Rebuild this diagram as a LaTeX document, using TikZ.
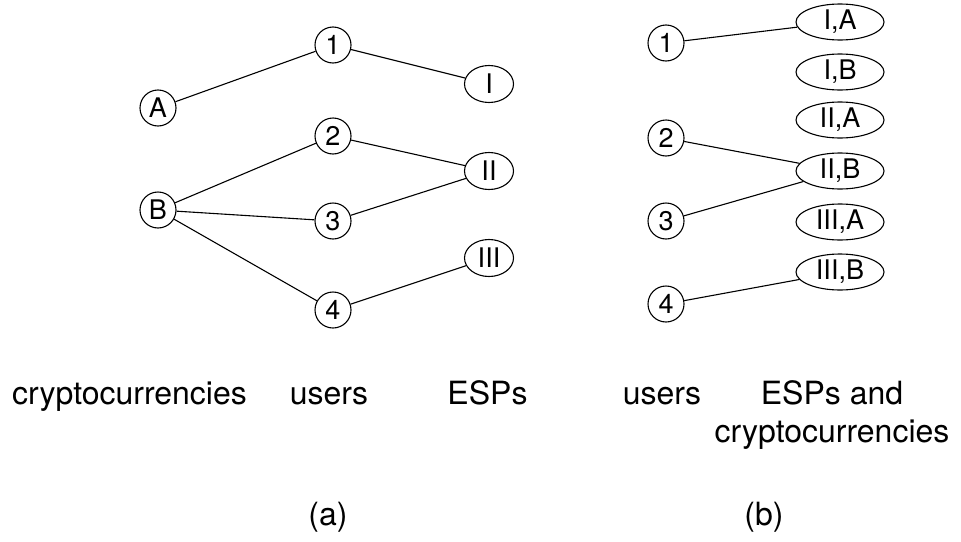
\documentclass[tikz,border=0pt]{standalone}
\usepackage{fontspec}
\setmainfont{TeX Gyre Heros}
\usetikzlibrary{shapes.geometric}
\tikzset{
  vert/.style={circle,draw,line width=1.1pt,inner sep=0pt,minimum size=36pt,font=\fontsize{27}{32}\selectfont},
  espl/.style={ellipse,draw,line width=1.1pt,inner sep=0pt,minimum width=49pt,minimum height=37pt,font=\fontsize{27}{32}\selectfont},
  espr/.style={ellipse,draw,line width=1.1pt,inner sep=0pt,minimum width=88pt,minimum height=36pt,font=\fontsize{27}{32}\selectfont},
  edge/.style={line width=1.1pt},
  lab/.style={anchor=base,inner sep=0pt,font=\fontsize{32}{38}\selectfont}
}
\begin{document}
\begin{tikzpicture}[x=1pt,y=-1pt]
\useasboundingbox (0,0) rectangle (961,541);
% (a)
\node[vert] (A) at (158,108) {A};
\node[vert] (B) at (158,210) {B};
\node[vert] (a1) at (333,45) {1};
\node[vert] (a2) at (333,136) {2};
\node[vert] (a3) at (333,221) {3};
\node[vert] (a4) at (333,310) {4};
\node[espl] (eI) at (489,84) {I};
\node[espl] (eII) at (489,171) {II};
\node[espl] (eIII) at (489,258) {III};
\draw[edge] (A) -- (a1);
\draw[edge] (a1) -- (eI);
\draw[edge] (B) -- (a2);
\draw[edge] (B) -- (a3);
\draw[edge] (B) -- (a4);
\draw[edge] (a2) -- (eII);
\draw[edge] (a3) -- (eII);
\draw[edge] (a4) -- (eIII);
% (b)
\node[vert] (b1) at (666,43) {1};
\node[vert] (b2) at (666,138) {2};
\node[vert] (b3) at (666,221) {3};
\node[vert] (b4) at (666,304) {4};
\node[espr] (IA) at (840,22) {I,A};
\node[espr] (IB) at (840,72) {I,B};
\node[espr] (IIA) at (840,120) {II,A};
\node[espr] (IIB) at (840,171) {II,B};
\node[espr] (IIIA) at (840,222) {III,A};
\node[espr] (IIIB) at (840,272) {III,B};
\draw[edge] (b1) -- (IA);
\draw[edge] (b2) -- (IIB);
\draw[edge] (b3) -- (IIB);
\draw[edge] (b4) -- (IIIB);
% labels
\node[lab] (l1) at (129.5,404) {cryptocurrencies};
\node[lab] (l2) at (329,404) {users};
\node[lab] (l3) at (487.5,404) {ESPs};
\node[lab] (l4) at (662,404) {users};
\node[lab] (l5) at (832,404) {ESPs and};
\node[lab] (l6) at (832,442) {cryptocurrencies};
\node[lab] (la) at (328,525) {(a)};
\node[lab] (lb) at (764,525) {(b)};
\end{tikzpicture}
\end{document}
